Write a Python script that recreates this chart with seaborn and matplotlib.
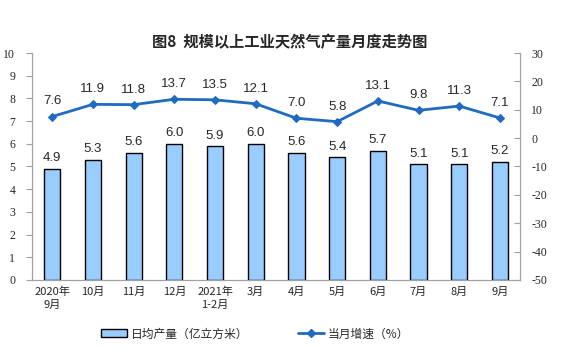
import matplotlib
matplotlib.use("Agg")
import matplotlib.pyplot as plt
import seaborn as sns
import pandas as pd
from matplotlib.patches import Patch
from matplotlib.lines import Line2D

months = ["2020年\n9月", "10月", "11月", "12月", "2021年\n1-2月", "3月",
          "4月", "5月", "6月", "7月", "8月", "9月"]
daily_output = [4.9, 5.3, 5.6, 6.0, 5.9, 6.0, 5.6, 5.4, 5.7, 5.1, 5.1, 5.2]
growth = [7.6, 11.9, 11.8, 13.7, 13.5, 12.1, 7.0, 5.8, 13.1, 9.8, 11.3, 7.1]

sns.set_style("white")
cjk = ["Noto Sans CJK SC", "DejaVu Sans"]
plt.rcParams["font.family"] = cjk
plt.rcParams["axes.unicode_minus"] = False

df = pd.DataFrame({"month": months, "output": daily_output, "growth": growth,
                   "pos": range(len(months))})

fig = plt.figure(figsize=(5.8, 3.51), dpi=100)
ax = fig.add_axes([0.055, 0.2023, 0.842, 0.6467])

bar_color = "#99CCFF"
line_color = "#1F6BBF"

sns.barplot(data=df, x="month", y="output", ax=ax, color=bar_color,
            edgecolor="black", linewidth=1.0, width=0.4, saturation=1)
ax.set_ylim(0, 10)
ax.set_xlim(-0.5, len(months) - 0.5)
ax.set_yticks(range(0, 11))
ax.set_xlabel("")
ax.set_ylabel("")
for i, v in enumerate(daily_output):
    ax.text(i, v + 0.2, f"{v:.1f}", ha="center", va="bottom", fontsize=9.5,
            family=["Liberation Sans"])

ax2 = ax.twinx()
sns.lineplot(data=df, x="pos", y="growth", ax=ax2, color=line_color,
             linewidth=2, marker="D", markersize=4, markeredgecolor=line_color)
ax2.set_ylim(-50, 30)
ax2.set_yticks(range(-50, 31, 10))
ax2.set_xlabel("")
ax2.set_ylabel("")
ax2.set_xlim(-0.5, len(months) - 0.5)
for i, v in enumerate(growth):
    ax2.text(i, v + 3.2, f"{v:.1f}", ha="center", va="bottom", fontsize=9.5,
             family=["Liberation Sans"])

# axis styling
for a in (ax, ax2):
    for s in a.spines.values():
        s.set_color("#A0A0A0")
        s.set_linewidth(0.8)
    a.spines["top"].set_visible(False)
ax.tick_params(axis="y", direction="out", length=4, color="#A0A0A0",
               labelsize=8.5, pad=8, labelfontfamily="Liberation Serif")
ax2.tick_params(axis="y", direction="in", length=4, color="#A0A0A0",
                labelsize=8.5, pad=8, labelfontfamily="Liberation Serif")
ax.tick_params(axis="x", length=0, labelsize=8, pad=5)
ax.set_xticks(range(len(months)))
ax.set_xticklabels(months, fontsize=8, linespacing=1.3)
ax.set_xticks([i + 0.5 for i in range(len(months) - 1)], minor=True)
ax.tick_params(axis="x", which="minor", direction="out", length=3,
               color="#A0A0A0")

fig.text(0.5, 0.88, "图8  规模以上工业天然气产量月度走势图", ha="center",
         va="center", fontsize=11, fontweight="bold")

handles = [Patch(facecolor=bar_color, edgecolor="black", linewidth=1.0),
           Line2D([0], [0], color=line_color, linewidth=2, marker="D",
                  markersize=4)]
fig.legend(handles, ["日均产量（亿立方米）", "当月增速（%）"], loc="lower center",
           bbox_to_anchor=(0.44, 0.0), ncol=2, frameon=False, fontsize=8.5,
           columnspacing=4.2, handlelength=2.2, handleheight=0.6,
           handletextpad=0.3)

fig.savefig("out.png", dpi=100)
